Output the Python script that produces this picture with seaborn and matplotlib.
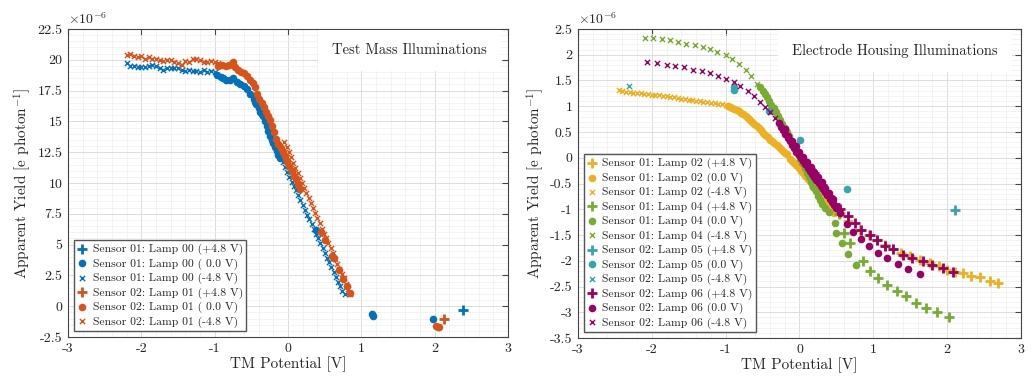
import numpy as np
import matplotlib
matplotlib.use("Agg")
import matplotlib.pyplot as plt
import seaborn as sns
from matplotlib.ticker import MultipleLocator, FormatStrFormatter

# --- data (values in units of 1e-6 e/photon) ---
# Test mass illuminations
s01_l00_p_x = [2.38]
s01_l00_p_y = [-0.35]
s01_l00_o_x = [-0.97, -0.92, -0.88, -0.84, -0.79, -0.75, -0.70, -0.65, -0.60, -0.56, -0.52, -0.47,
               -0.45, -0.43, -0.40, -0.38, -0.36, -0.34, -0.31, -0.29, -0.27, -0.245, -0.22, -0.20,
               -0.18, -0.154, -0.13, -0.11, 0.38, 1.15, 1.16, 1.97]
s01_l00_o_y = [18.8, 18.6, 18.5, 18.4, 18.4, 18.5, 18.2, 18.0, 17.9, 17.6, 17.2, 16.8,
               16.6, 16.4, 16.1, 15.8, 15.6, 15.4, 15.0, 14.6, 14.2, 13.8, 13.5, 13.25,
               12.9, 12.6, 12.3, 12.0, 6.2, -0.6, -0.8, -1.0]
s01_l00_x_x = [-2.20, -2.15, -2.10, -2.05, -2.00, -1.95, -1.90, -1.85, -1.80, -1.75, -1.70, -1.65,
               -1.60, -1.55, -1.50, -1.45, -1.40, -1.35, -1.30, -1.25, -1.20, -1.15, -1.10, -1.05,
               -1.00, -0.10, -0.07, -0.04, -0.01, 0.02, 0.05, 0.08, 0.11, 0.14, 0.17, 0.20, 0.23,
               0.26, 0.29, 0.32, 0.35, 0.38, 0.41, 0.44, 0.47, 0.50, 0.53, 0.56, 0.59, 0.62, 0.65,
               0.68, 0.71, 0.74, 0.77]
s01_l00_x_y = [19.7, 19.5, 19.5, 19.4, 19.4, 19.4, 19.5, 19.6, 19.5, 19.3, 19.2, 19.3,
               19.3, 19.3, 19.3, 19.2, 19.1, 19.2, 19.1, 19.1, 19.0, 19.2, 19.0, 19.1,
               19.0, 12.1, 11.7, 11.3, 10.9, 10.5, 10.1, 9.75, 9.4, 9.0, 8.6, 8.2, 7.8,
               7.4, 7.05, 6.65, 6.3, 5.9, 5.5, 5.1, 4.7, 4.35, 3.95, 3.55, 3.2, 2.8, 2.4,
               2.0, 1.6, 1.25, 1.0]
s02_l01_p_x = [2.13]
s02_l01_p_y = [-1.0]
s02_l01_o_x = [-0.95, -0.90, -0.85, -0.80, -0.75, -0.72, -0.68, -0.64, -0.60, -0.56, -0.52, -0.48,
               -0.45, -0.42, -0.39, -0.36, -0.33, -0.30, -0.27, -0.245, -0.22, -0.19, -0.16, -0.13,
               -0.10, -0.07, -0.04, -0.01, 0.02, 0.05, 0.08, 0.11, 0.14, 0.17, 0.45, 0.50, 0.60,
               0.62, 0.70, 0.75, 0.80, 0.84, 2.02, 2.04, 2.06]
s02_l01_o_y = [19.5, 19.6, 19.5, 19.6, 19.8, 19.4, 19.2, 19.0, 18.9, 18.7, 18.4, 18.1,
               17.8, 17.2, 16.8, 16.5, 16.2, 15.8, 15.4, 15.1, 14.6, 14.1, 13.6, 13.2,
               12.8, 12.5, 12.2, 11.8, 11.4, 11.0, 10.6, 10.3, 9.9, 9.5, 6.0, 5.4, 4.1,
               3.9, 2.9, 2.2, 1.6, 1.1, -1.6, -1.7, -1.65]
s02_l01_x_x = [-2.20, -2.15, -2.10, -2.05, -2.00, -1.95, -1.90, -1.85, -1.80, -1.75, -1.70, -1.65,
               -1.60, -1.55, -1.50, -1.45, -1.40, -1.35, -1.30, -1.25, -1.20, -1.15, -1.10, -1.05,
               -1.00, -0.95, -0.05, -0.02, 0.01, 0.04, 0.07, 0.10, 0.13, 0.16, 0.19, 0.22, 0.25,
               0.28, 0.31, 0.34, 0.37, 0.40, 0.43, 0.46, 0.49, 0.52, 0.55, 0.58, 0.61, 0.64, 0.67,
               0.70, 0.73, 0.76, 0.79, 0.82, 0.85]
s02_l01_x_y = [20.4, 20.5, 20.3, 20.2, 20.3, 20.1, 20.2, 20.1, 20.1, 20.0, 19.9, 20.0,
               20.0, 19.8, 19.7, 19.6, 19.9, 19.8, 20.1, 20.1, 20.0, 19.8, 19.8, 19.9,
               19.8, 19.7, 13.3, 12.9, 12.5, 12.1, 11.65, 11.25, 10.85, 10.4, 10.0, 9.6, 9.2,
               8.8, 8.35, 7.95, 7.55, 7.15, 6.75, 6.3, 5.9, 5.5, 5.1, 4.7, 4.3, 3.85, 3.45,
               3.05, 2.65, 2.25, 1.8, 1.4, 1.0]

# Electrode housing illuminations
l02_p_x = [0.55, 0.66, 0.82, 0.94, 1.05, 1.16, 1.27, 1.38, 1.50, 1.63, 1.77, 1.89, 2.00, 2.11,
           2.22, 2.33, 2.44, 2.58, 2.69]
l02_p_y = [-1.07, -1.22, -1.40, -1.50, -1.59, -1.69, -1.78, -1.85, -1.91, -1.98, -2.04, -2.11,
           -2.17, -2.21, -2.24, -2.29, -2.32, -2.39, -2.43]
l02_o_x = [-0.97, -0.94, -0.91, -0.88, -0.85, -0.82, -0.79, -0.76, -0.73, -0.70, -0.67, -0.64,
           -0.61, -0.58, -0.55, -0.52, -0.49, -0.46, -0.43, -0.40, -0.37, -0.34, -0.31, -0.28,
           -0.25, -0.22, -0.19, -0.17, -0.13, -0.10, -0.07, -0.04, -0.01, 0.02, 0.05, 0.08,
           0.11, 0.14, 0.17, 0.20, 0.23, 0.26, 0.29, 0.32, 0.35, 0.38, 0.41, 0.44, 0.47]
l02_o_y = [1.01, 0.99, 0.97, 0.95, 0.92, 0.90, 0.87, 0.84, 0.81, 0.78, 0.74, 0.70,
           0.66, 0.61, 0.58, 0.54, 0.49, 0.45, 0.40, 0.35, 0.32, 0.28, 0.24, 0.21,
           0.17, 0.13, 0.10, 0.07, -0.02, -0.06, -0.10, -0.15, -0.20, -0.25, -0.30, -0.36,
           -0.41, -0.46, -0.52, -0.58, -0.63, -0.69, -0.74, -0.80, -0.86, -0.92, -0.98, -1.03, -1.08]
l02_x_x = [-2.45, -2.40, -2.35, -2.30, -2.25, -2.20, -2.15, -2.10, -2.05, -2.00, -1.95, -1.90,
           -1.85, -1.80, -1.75, -1.70, -1.65, -1.60, -1.55, -1.50, -1.45, -1.40, -1.35, -1.30,
           -1.25, -1.20, -1.15, -1.10, -1.05, -1.00, -0.95]
l02_x_y = [1.31, 1.30, 1.28, 1.27, 1.26, 1.25, 1.25, 1.24, 1.23, 1.22, 1.22, 1.21,
           1.20, 1.19, 1.18, 1.17, 1.16, 1.15, 1.14, 1.13, 1.12, 1.11, 1.10, 1.09,
           1.08, 1.07, 1.06, 1.05, 1.04, 1.02, 1.00]
l04_p_x = [0.54, 0.60, 0.68, 0.86, 0.96, 1.07, 1.18, 1.32, 1.44, 1.58, 1.72, 1.86, 2.02]
l04_p_y = [-1.10, -1.46, -1.65, -2.01, -2.19, -2.33, -2.48, -2.59, -2.69, -2.82, -2.92, -3.00, -3.09]
l04_o_x = [-0.53, -0.50, -0.47, -0.44, -0.41, -0.38, -0.35, -0.32, -0.29, -0.26, -0.23, -0.20,
           -0.17, -0.14, -0.11, -0.08, -0.05, -0.02, 0.01, 0.04, 0.07, 0.10, 0.13, 0.16,
           0.19, 0.22, 0.25, 0.28, 0.31, 0.35, 0.40, 0.48, 0.50, 0.57, 0.66, 0.76]
l04_o_y = [1.37, 1.30, 1.24, 1.17, 1.10, 1.03, 0.97, 0.88, 0.81, 0.74, 0.66, 0.58,
           0.50, 0.42, 0.33, 0.25, 0.16, 0.07, -0.02, -0.11, -0.20, -0.29, -0.38, -0.47,
           -0.56, -0.65, -0.74, -0.82, -0.90, -0.98, -1.06, -1.27, -1.46, -1.65, -1.86, -2.09]
l04_x_x = [-2.09, -1.98, -1.86, -1.75, -1.64, -1.53, -1.41, -1.31, -1.21, -1.11, -1.00, -0.91,
           -0.82, -0.73, -0.65, -0.57]
l04_x_y = [2.33, 2.33, 2.31, 2.28, 2.24, 2.21, 2.19, 2.15, 2.11, 2.06, 2.00, 1.92,
           1.82, 1.71, 1.58, 1.44]
l05_p_x = [2.11]
l05_p_y = [-1.02]
l05_o_x = [-0.89, -0.88, -0.41, 0.01, 0.65]
l05_o_y = [1.37, 1.32, 0.91, 0.34, -0.60]
l05_x_x = [-2.31]
l05_x_y = [1.40]
l06_p_x = [0.20, 0.30, 0.40, 0.48, 0.55, 0.66, 0.75, 0.84, 0.95, 1.05, 1.16, 1.27, 1.40, 1.52,
           1.67, 1.79, 1.94, 2.08]
l06_p_y = [-0.30, -0.52, -0.74, -0.89, -1.00, -1.14, -1.27, -1.40, -1.50, -1.60, -1.71, -1.78,
           -1.88, -1.95, -2.01, -2.08, -2.14, -2.21]
l06_o_x = [-0.28, -0.25, -0.22, -0.19, -0.16, -0.13, -0.10, -0.07, -0.04, -0.01, 0.02, 0.05,
           0.08, 0.11, 0.14, 0.17, 0.20, 0.23, 0.26, 0.29, 0.32, 0.35, 0.38, 0.41, 0.44, 0.47,
           0.50, 0.55, 0.64, 0.73, 0.83, 0.94, 1.06, 1.19, 1.33, 1.47, 1.63,
           -0.20, -0.15, -0.10, -0.05, 0.00, 0.05, 0.10, 0.15, 0.20, 0.25, 0.30, 0.35, 0.40, 0.45]
l06_o_y = [0.67, 0.60, 0.53, 0.46, 0.39, 0.32, 0.25, 0.18, 0.11, 0.05, -0.01, -0.07,
           -0.13, -0.19, -0.25, -0.31, -0.37, -0.43, -0.49, -0.55, -0.61, -0.67, -0.73, -0.80,
           -0.86, -0.92, -0.98, -1.08, -1.28, -1.44, -1.58, -1.71, -1.84, -1.95, -2.06, -2.16, -2.25,
           0.55, 0.43, 0.32, 0.22, 0.12, 0.02, -0.08, -0.18, -0.28, -0.38, -0.48, -0.58, -0.68, -0.80]
l06_x_x = [-2.06, -1.93, -1.80, -1.68, -1.56, -1.44, -1.32, -1.21, -1.10, -0.99, -0.89, -0.80,
           -0.70, -0.61, -0.54, -0.47, -0.40, -0.33]
l06_x_y = [1.85, 1.83, 1.80, 1.79, 1.76, 1.71, 1.68, 1.64, 1.59, 1.53, 1.48, 1.40,
           1.30, 1.19, 1.08, 0.99, 0.88, 0.77]

blue, orange = "#0072BD", "#D95319"
yellow, green, teal, purple = "#EDB120", "#77AC30", "#35A6AD", "#990066"

left_series = [
    ("Sensor 01: Lamp 00 (+4.8 V)", s01_l00_p_x, s01_l00_p_y, "+", blue),
    ("Sensor 01: Lamp 00 ( 0.0 V)", s01_l00_o_x, s01_l00_o_y, "o", blue),
    ("Sensor 01: Lamp 00 (-4.8 V)", s01_l00_x_x, s01_l00_x_y, "x", blue),
    ("Sensor 02: Lamp 01 (+4.8 V)", s02_l01_p_x, s02_l01_p_y, "+", orange),
    ("Sensor 02: Lamp 01 ( 0.0 V)", s02_l01_o_x, s02_l01_o_y, "o", orange),
    ("Sensor 02: Lamp 01 (-4.8 V)", s02_l01_x_x, s02_l01_x_y, "x", orange),
]
right_series = [
    ("Sensor 01: Lamp 02 (+4.8 V)", l02_p_x, l02_p_y, "+", yellow),
    ("Sensor 01: Lamp 02 (0.0 V)", l02_o_x, l02_o_y, "o", yellow),
    ("Sensor 01: Lamp 02 (-4.8 V)", l02_x_x, l02_x_y, "x", yellow),
    ("Sensor 01: Lamp 04 (+4.8 V)", l04_p_x, l04_p_y, "+", green),
    ("Sensor 01: Lamp 04 (0.0 V)", l04_o_x, l04_o_y, "o", green),
    ("Sensor 01: Lamp 04 (-4.8 V)", l04_x_x, l04_x_y, "x", green),
    ("Sensor 02: Lamp 05 (+4.8 V)", l05_p_x, l05_p_y, "+", teal),
    ("Sensor 02: Lamp 05 (0.0 V)", l05_o_x, l05_o_y, "o", teal),
    ("Sensor 02: Lamp 05 (-4.8 V)", l05_x_x, l05_x_y, "x", teal),
    ("Sensor 02: Lamp 06 (+4.8 V)", l06_p_x, l06_p_y, "+", purple),
    ("Sensor 02: Lamp 06 (0.0 V)", l06_o_x, l06_o_y, "o", purple),
    ("Sensor 02: Lamp 06 (-4.8 V)", l06_x_x, l06_x_y, "x", purple),
]

sns.set_style("whitegrid")
plt.rcParams["font.family"] = ["cmr10", "DejaVu Serif"]
plt.rcParams["mathtext.fontset"] = "cm"
plt.rcParams["axes.unicode_minus"] = False
plt.rcParams["axes.formatter.use_mathtext"] = True

fig = plt.figure(figsize=(10.32, 3.78), dpi=100)
ax1 = fig.add_axes([0.0659, 0.1085, 0.4264, 0.8148])
ax2 = fig.add_axes([0.5600, 0.1058, 0.4293, 0.8175])

marker_kw = {
    "+": dict(s=45, linewidth=2.0),
    "o": dict(s=30, linewidth=0),
    "x": dict(s=14, linewidth=1.0),
}


def draw(ax, series, ylim, ymajor, yminor, title, title_x):
    for label, xs, ys, m, c in series:
        sns.scatterplot(x=xs, y=ys, marker=m, color=c, ax=ax, label=label,
                        zorder=3, **marker_kw[m])
    ax.set_xlim(-3, 3)
    ax.set_ylim(*ylim)
    ax.xaxis.set_major_locator(MultipleLocator(1))
    ax.xaxis.set_minor_locator(MultipleLocator(0.2))
    ax.yaxis.set_major_locator(MultipleLocator(ymajor))
    ax.yaxis.set_minor_locator(MultipleLocator(yminor))
    ax.xaxis.set_major_formatter(FormatStrFormatter("%g"))
    ax.yaxis.set_major_formatter(FormatStrFormatter("%g"))
    ax.grid(which="major", color="#dcdcdc", linewidth=0.7)
    ax.grid(which="minor", color="#efefef", linewidth=0.5)
    ax.set_axisbelow(True)
    for sp in ax.spines.values():
        sp.set_color("#444444")
        sp.set_linewidth(0.8)
    ax.tick_params(which="both", direction="in", top=True, right=True,
                   color="#444444", labelsize=10, pad=4)
    ax.tick_params(which="major", length=4)
    ax.tick_params(which="minor", length=0)
    ax.set_xlabel("TM Potential [V]", fontsize=11, labelpad=1)
    ax.set_ylabel(r"Apparent Yield [e photon$^{-1}$]", fontsize=11, labelpad=3)
    ax.text(0.0, 1.005, r"$\times10^{-6}$", transform=ax.transAxes, ha="left",
            va="bottom", fontsize=10)
    ax.text(title_x, 0.93, title, transform=ax.transAxes, ha="right", va="center",
            fontsize=10.5, zorder=5,
            bbox=dict(facecolor="white", edgecolor="none", pad=10))
    leg = ax.legend(loc="lower left", fontsize=8.4, frameon=True, fancybox=False,
                    framealpha=1, edgecolor="#555555", borderpad=0.3,
                    labelspacing=0.27, handlelength=0.8, handletextpad=0.5,
                    borderaxespad=0.5)
    leg.get_frame().set_linewidth(1.0)
    leg.set_zorder(6)


draw(ax1, left_series, (-2.5, 22.5), 2.5, 0.5, "Test Mass Illuminations", 0.952)
draw(ax2, right_series, (-3.5, 2.5), 0.5, 0.1, "Electrode Housing Illuminations", 0.948)

fig.savefig("out.png", dpi=100)
